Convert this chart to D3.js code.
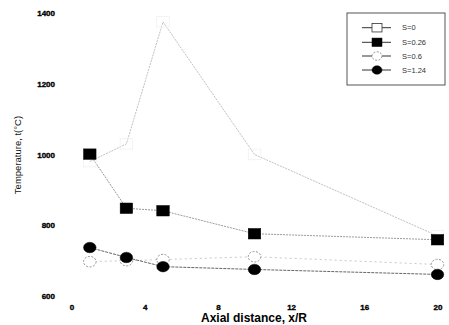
<!DOCTYPE html>
<html>
<head>
<meta charset="utf-8">
<script src="https://cdn.jsdelivr.net/npm/d3@7"></script>
<style>
  html, body { margin: 0; padding: 0; background: #fff; }
  svg { display: block; }
</style>
</head>
<body>
<svg id="chart" width="449" height="325"></svg>
<script>
// Axial temperature profiles for several swirl numbers
const xPositions = [1, 3, 5, 10, 20];
const seriesNames = ["S=0", "S=0.26", "S=0.6", "S=1.24"];
const tempS0 = [980, 1030, 1375, 1000, 770];
const tempS026 = [1001, 848, 841, 776, 759];
const tempS06 = [697, 700, 703, 711, 689];
const tempS124 = [737, 709, 683, 675, 661];
const xTicks = [0, 4, 8, 12, 16, 20];
const yTicks = [600, 800, 1000, 1200, 1400];

const svg = d3.select("#chart");
const x = d3.scaleLinear().domain([0, 20]).range([71.5, 437.5]);
const y = d3.scaleLinear().domain([600, 1400]).range([296, 13]);

const series = [
  { name: seriesNames[0], values: tempS0, marker: "openSquare", line: "#b0b0b0", lw: 0.8, dash: "2,1" },
  { name: seriesNames[1], values: tempS026, marker: "square", line: "#9a9a9a", lw: 1, dash: "2,1" },
  { name: seriesNames[2], values: tempS06, marker: "openCircle", line: "#c8c8c8", lw: 1, dash: "2,3" },
  { name: seriesNames[3], values: tempS124, marker: "circle", line: "#666", lw: 1, dash: "3,1" }
];

// axes: tick labels only, no axis lines
const yAxis = svg.append("g")
  .attr("transform", "translate(58,0)")
  .call(d3.axisLeft(y).tickValues(yTicks).tickSize(0).tickPadding(3).tickFormat(d3.format("d")));
const xAxis = svg.append("g")
  .attr("transform", "translate(0,301)")
  .call(d3.axisBottom(x).tickValues(xTicks).tickSize(0).tickPadding(3).tickFormat(d3.format("d")));
[yAxis, xAxis].forEach(g => {
  g.select(".domain").remove();
  g.selectAll("text")
    .attr("font-family", "Liberation Sans, Arial, sans-serif")
    .attr("font-size", 8)
    .attr("font-weight", "bold")
    .attr("fill", "#000")
    .attr("stroke", "#000")
    .attr("stroke-width", 0.35);
});

svg.append("text")
  .attr("x", 254).attr("y", 322)
  .attr("text-anchor", "middle")
  .attr("font-family", "Liberation Sans, Arial, sans-serif")
  .attr("font-size", 12).attr("font-weight", "bold")
  .attr("fill", "#000")
  .text("Axial distance, x/R");

svg.append("text")
  .attr("transform", "translate(21,155) rotate(-90)")
  .attr("text-anchor", "middle")
  .attr("font-family", "Liberation Sans, Arial, sans-serif")
  .attr("font-size", 9.5)
  .attr("fill", "#111")
  .text("Temperature, t(\u00B0C)");

const line = d3.line().x(d => x(d[0])).y(d => y(d[1]));

function drawMarker(g, type, cx, cy, w, h, faint) {
  if (type === "square" || type === "openSquare") {
    g.append("rect")
      .attr("x", cx - w / 2).attr("y", cy - h / 2)
      .attr("width", w).attr("height", h)
      .attr("fill", type === "square" ? "#000" : "none")
      .attr("stroke", type === "square" ? "#000" : (faint ? "#f0f0f0" : "#333"))
      .attr("stroke-width", type === "square" ? 0.5 : 0.8);
  } else {
    g.append("ellipse")
      .attr("cx", cx).attr("cy", cy)
      .attr("rx", w / 2).attr("ry", h / 2)
      .attr("fill", type === "circle" ? "#000" : "#fff")
      .attr("stroke", type === "circle" ? "#000" : "#888")
      .attr("stroke-width", type === "circle" ? 0.5 : 0.9)
      .attr("stroke-dasharray", type === "circle" ? null : "2,1.5");
  }
}

// lines first, then markers (open markers below filled ones)
const plot = svg.append("g");
series.forEach(s => {
  const pts = xPositions.map((xv, i) => [xv, s.values[i]]);
  plot.append("path")
    .datum(pts)
    .attr("d", line)
    .attr("fill", "none")
    .attr("stroke", s.line)
    .attr("stroke-width", s.lw)
    .attr("stroke-dasharray", s.dash);
});
[0, 2, 1, 3].forEach(k => {
  const s = series[k];
  const g = plot.append("g");
  xPositions.forEach((xv, i) => drawMarker(g, s.marker, x(xv), y(s.values[i]), 12.5, 10.5, true));
});

// legend
const lg = svg.append("g");
lg.append("rect")
  .attr("x", 347).attr("y", 13).attr("width", 98).attr("height", 72)
  .attr("fill", "#fff").attr("stroke", "#555").attr("stroke-width", 1);
const legendRows = [27.7, 42.3, 56, 70];
series.forEach((s, i) => {
  const ly = legendRows[i];
  lg.append("line")
    .attr("x1", 362).attr("x2", 391).attr("y1", ly).attr("y2", ly)
    .attr("stroke", "#333").attr("stroke-width", 1);
  drawMarker(lg, s.marker, 377, ly, 10, 8.5, false);
  lg.append("text")
    .attr("x", 402).attr("y", ly + 2.7)
    .attr("font-family", "Liberation Sans, Arial, sans-serif")
    .attr("font-size", 7.5)
    .attr("fill", "#333")
    .text(s.name);
});
lg.selectAll("rect").filter((d, i) => i === 1).attr("fill", "#fff");
</script>
</body>
</html>
